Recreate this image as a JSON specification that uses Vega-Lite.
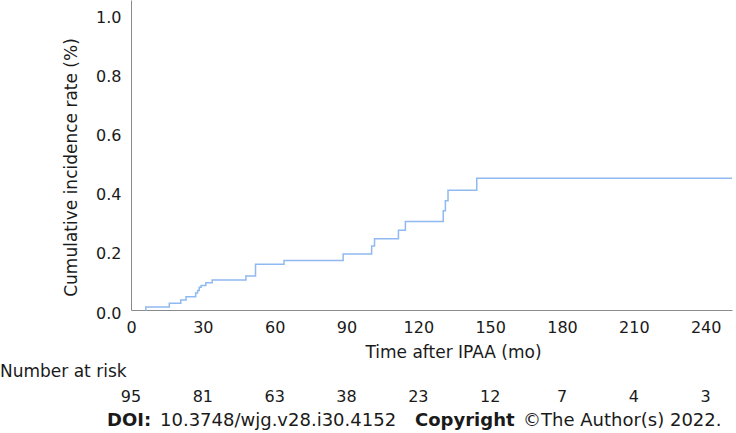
{
  "$schema": "https://vega.github.io/schema/vega-lite/v6.json",
  "width": 601,
  "height": 310,
  "autosize": {"type": "none"},
  "padding": {"left": 131, "top": 0, "right": 4, "bottom": 123},
  "background": "white",
  "config": {
    "view": {"stroke": null},
    "font": "DejaVu Sans",
    "text": {"font": "DejaVu Sans", "color": "#1a1a1a"},
    "axis": {
      "grid": false,
      "ticks": false,
      "tickSize": 0,
      "domainColor": "#8a8a8a",
      "domainWidth": 1,
      "labelColor": "#1a1a1a",
      "titleColor": "#1a1a1a",
      "labelFont": "DejaVu Sans",
      "titleFont": "DejaVu Sans",
      "labelFontSize": 16,
      "titleFontSize": 17,
      "titleFontWeight": "normal"
    }
  },
  "datasets": {
    "curve": [
      {"t": 6, "v": 0.0},
      {"t": 6.2, "v": 0.0105},
      {"t": 16, "v": 0.0227},
      {"t": 20.8, "v": 0.034},
      {"t": 23, "v": 0.045},
      {"t": 27, "v": 0.058},
      {"t": 27.8, "v": 0.066},
      {"t": 28.5, "v": 0.077},
      {"t": 29.3, "v": 0.083},
      {"t": 31.25, "v": 0.092},
      {"t": 33.9, "v": 0.102},
      {"t": 48, "v": 0.115},
      {"t": 52, "v": 0.155},
      {"t": 63.9, "v": 0.168},
      {"t": 88.6, "v": 0.19},
      {"t": 100.5, "v": 0.217},
      {"t": 101.7, "v": 0.241},
      {"t": 111.7, "v": 0.27},
      {"t": 114.6, "v": 0.3},
      {"t": 130.4, "v": 0.336},
      {"t": 131.3, "v": 0.37},
      {"t": 132.4, "v": 0.406},
      {"t": 144.4, "v": 0.446},
      {"t": 251, "v": 0.446}
    ],
    "risk": [
      {"t": 0, "n": 95},
      {"t": 30, "n": 81},
      {"t": 60, "n": 63},
      {"t": 90, "n": 38},
      {"t": 120, "n": 23},
      {"t": 150, "n": 12},
      {"t": 180, "n": 7},
      {"t": 210, "n": 4},
      {"t": 240, "n": 3}
    ]
  },
  "layer": [
    {
      "data": {"name": "curve"},
      "mark": {"type": "line", "interpolate": "step-after", "color": "#8fb9f0", "strokeWidth": 1.5},
      "encoding": {
        "x": {
          "field": "t",
          "type": "quantitative",
          "scale": {"domain": [0, 251], "nice": false, "zero": false},
          "axis": {
            "values": [0, 30, 60, 90, 120, 150, 180, 210, 240],
            "title": "Time after IPAA (mo)",
            "labelPadding": 9,
            "labelFlush": false,
            "titleX": 322,
            "titleY": 42,
            "titleBaseline": "middle",
            "titleAlign": "center"
          }
        },
        "y": {
          "field": "v",
          "type": "quantitative",
          "scale": {"domain": [0, 1.05], "nice": false},
          "axis": {
            "values": [0, 0.2, 0.4, 0.6, 0.8, 1.0],
            "format": ".1f",
            "title": "Cumulative incidence rate (%)",
            "labelPadding": 10,
            "labelOffset": 3,
            "labelFlush": false,
            "titleX": -60,
            "titleY": 167,
            "titleBaseline": "middle",
            "titleAlign": "center",
            "titleAngle": -90
          }
        }
      }
    },
    {
      "data": {"name": "risk"},
      "mark": {"type": "text", "fontSize": 16, "baseline": "middle", "align": "center"},
      "encoding": {
        "x": {"field": "t", "type": "quantitative"},
        "y": {"value": 397},
        "text": {"field": "n", "type": "quantitative"}
      }
    },
    {
      "data": {"values": [{"label": "Number at risk"}]},
      "mark": {"type": "text", "fontSize": 17, "baseline": "middle", "align": "left"},
      "encoding": {
        "x": {"value": -131},
        "y": {"value": 372},
        "text": {"field": "label"}
      }
    },
    {
      "data": {"values": [{"label": "DOI:"}]},
      "mark": {"type": "text", "fontSize": 18, "fontWeight": "bold", "baseline": "middle", "align": "left"},
      "encoding": {
        "x": {"value": -24},
        "y": {"value": 421},
        "text": {"field": "label"}
      }
    },
    {
      "data": {"values": [{"label": "10.3748/wjg.v28.i30.4152"}]},
      "mark": {"type": "text", "fontSize": 18, "baseline": "middle", "align": "left"},
      "encoding": {
        "x": {"value": 29},
        "y": {"value": 421},
        "text": {"field": "label"}
      }
    },
    {
      "data": {"values": [{"label": "Copyright"}]},
      "mark": {"type": "text", "fontSize": 18, "fontWeight": "bold", "baseline": "middle", "align": "left"},
      "encoding": {
        "x": {"value": 284},
        "y": {"value": 421},
        "text": {"field": "label"}
      }
    },
    {
      "data": {"values": [{"label": "©The Author(s) 2022."}]},
      "mark": {"type": "text", "fontSize": 18, "baseline": "middle", "align": "left"},
      "encoding": {
        "x": {"value": 392},
        "y": {"value": 421},
        "text": {"field": "label"}
      }
    }
  ]
}
